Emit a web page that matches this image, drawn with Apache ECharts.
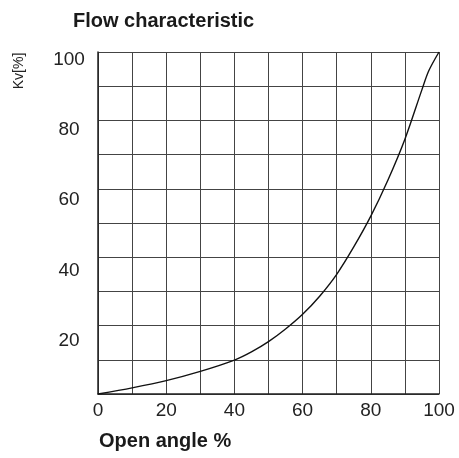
<!DOCTYPE html>
<html>
<head>
<meta charset="utf-8">
<script src="https://cdn.jsdelivr.net/npm/echarts@6/dist/echarts.min.js"></script>
<style>html,body{margin:0;padding:0;background:#fff;}#c{width:459px;height:458px;}</style>
</head>
<body>
<div id="c"></div>
<script>
const titleText = 'Flow characteristic';
const xAxisTitle = 'Open angle %';
const yAxisTitle = 'Kv[%]';
const openAngle = [0, 10, 20, 30, 40, 45, 50, 55, 60, 65, 70, 75, 80, 85, 90, 95, 97, 100];
const kv =        [0, 1.8, 3.9, 6.6, 9.9, 12.3, 15.3, 19, 23.3, 28.6, 35, 43, 52, 62.5, 74.5, 89, 94.5, 100];
const xTickLabels = [0, 20, 40, 60, 80, 100];
const yTickLabels = [20, 40, 60, 80, 100];

const FONT = '"Liberation Sans", Arial, Helvetica, sans-serif';
const chart = echarts.init(document.getElementById('c'));
const gridLine = { show: true, lineStyle: { color: '#444', width: 1, type: 'solid' } };
chart.setOption({
  animation: false,
  backgroundColor: '#fff',
  title: {
    text: titleText, left: 68, top: 6,
    textStyle: { fontFamily: FONT, fontSize: 20, fontWeight: 'bold', color: '#1a1a1a' }
  },
  grid: { left: 98, right: 20, top: 52, bottom: 64, containLabel: false, outerBoundsMode: 'none' },
  xAxis: {
    type: 'value', min: 0, max: 100, interval: 10,
    axisLine: { show: true, onZero: false, lineStyle: { color: '#222', width: 1.5 } },
    axisTick: { show: false },
    splitLine: gridLine,
    axisLabel: {
      margin: 7, fontFamily: FONT, fontSize: 19, color: '#222',
      formatter: v => xTickLabels.includes(v) ? String(v) : ''
    }
  },
  yAxis: [{
    type: 'value', min: 0, max: 100, interval: 10,
    axisLine: { show: true, lineStyle: { color: '#222', width: 1.5 } },
    axisTick: { show: false },
    splitLine: gridLine,
    axisLabel: { show: false }
  }, {
    type: 'value', position: 'left', min: 4.76, max: 102.2,
    axisLine: { show: false }, axisTick: { show: false }, splitLine: { show: false },
    axisLabel: {
      customValues: yTickLabels, margin: 29, align: 'center',
      fontFamily: FONT, fontSize: 19, color: '#222'
    }
  }],
  graphic: [{
    type: 'text', x: 19, y: 71, rotation: Math.PI / 2,
    style: { text: yAxisTitle, font: '14px ' + FONT, fill: '#222', align: 'center', verticalAlign: 'middle' }
  }, {
    type: 'text', x: 99, y: 441,
    style: { text: xAxisTitle, font: 'bold 20px ' + FONT, fill: '#1a1a1a', align: 'left', verticalAlign: 'middle' }
  }],
  series: [{
    type: 'line', yAxisIndex: 0, showSymbol: false, smooth: 0.3,
    lineStyle: { color: '#111', width: 1.4 },
    data: openAngle.map((x, i) => [x, kv[i]])
  }]
});
</script>
</body>
</html>
